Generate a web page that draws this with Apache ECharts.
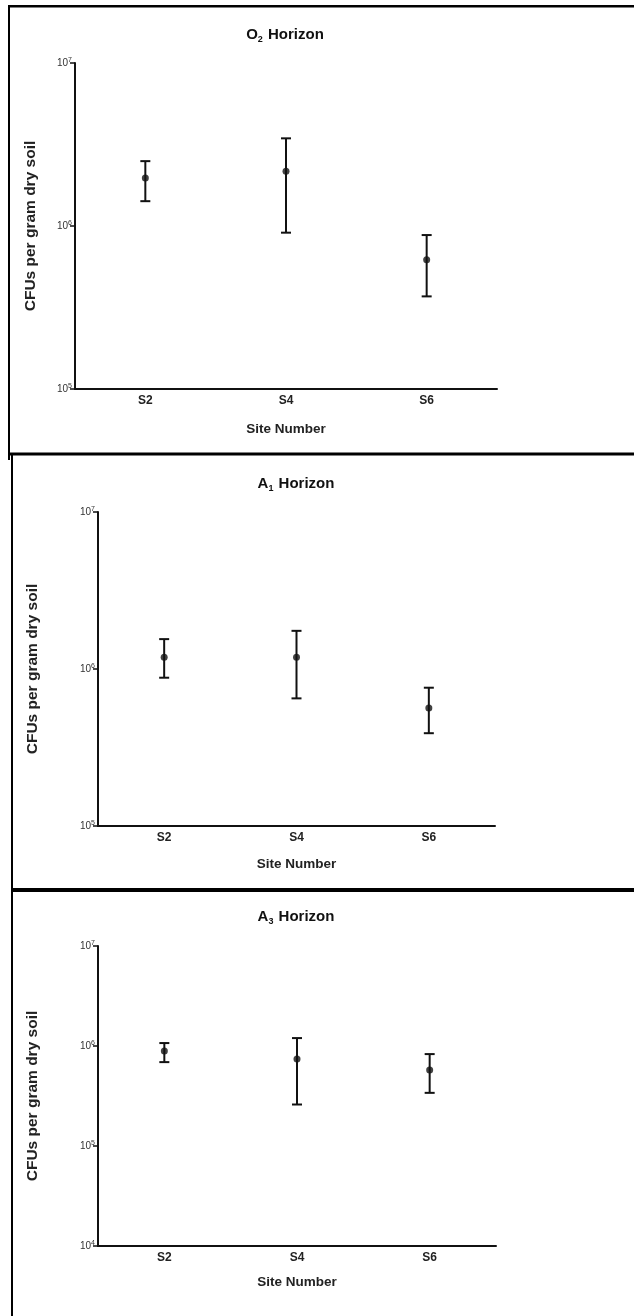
<!DOCTYPE html>
<html>
<head>
<meta charset="utf-8">
<title>CFUs per gram dry soil by horizon</title>
<script src="https://cdn.jsdelivr.net/npm/echarts@6/dist/echarts.min.js"></script>
<style>
  html, body { margin: 0; padding: 0; background: #fff; }
  #chart { width: 634px; height: 1316px; }
</style>
</head>
<body>
<div id="chart"></div>
<script>
// Site categories shared by all three horizons
const sites = ['S2', 'S4', 'S6'];

// O2 horizon: mean and error-bar limits (CFUs per gram dry soil)
const o2Mean = [1.97e6, 2.17e6, 6.2e5];
const o2Low  = [1.42e6, 9.1e5, 3.7e5];
const o2High = [2.5e6, 3.45e6, 8.8e5];

// A1 horizon
const a1Mean = [1.19e6, 1.19e6, 5.65e5];
const a1Low  = [8.8e5, 6.5e5, 3.9e5];
const a1High = [1.55e6, 1.75e6, 7.6e5];

// A3 horizon
const a3Mean = [8.9e5, 7.4e5, 5.75e5];
const a3Low  = [6.9e5, 2.6e5, 3.4e5];
const a3High = [1.07e6, 1.2e6, 8.3e5];

// Panel titles (horizon name and its subscript) and y-axis ranges
const horizonNames = ['O', 'A', 'A'];
const horizonSubs = ['2', '1', '3'];
const yMins = [1e5, 1e5, 1e4];
const yMaxs = [1e7, 1e7, 1e7];

const panels = [
  { mean: o2Mean, low: o2Low, high: o2High },
  { mean: a1Mean, low: a1Low, high: a1High },
  { mean: a3Mean, low: a3Low, high: a3High }
];

// Plot-area placement for each panel
const layout = [
  { left: 75, top: 63, width: 422, height: 326, titleX: 285, titleY: 35, yGap: 36, xGap: 33 },
  { left: 98, top: 512, width: 397, height: 314, titleX: 296, titleY: 484, yGap: 57, xGap: 31 },
  { left: 98, top: 946, width: 398, height: 300, titleX: 296, titleY: 917, yGap: 57, xGap: 29 }
];

const FONT = 'Liberation Sans, Arial, Helvetica, sans-serif';

const grids = [], xAxes = [], yAxes = [], series = [], titles = [];

layout.forEach((L, i) => {
  grids.push({ left: L.left, top: L.top, width: L.width, height: L.height });

  titles.push({
    text: horizonNames[i] + '{sub|' + horizonSubs[i] + '} Horizon',
    left: L.titleX, top: L.titleY,
    textAlign: 'center',
    textVerticalAlign: 'middle',
    padding: 0,
    textStyle: {
      fontFamily: FONT, fontSize: 15, fontWeight: 'bold', color: '#111',
      rich: { sub: { fontFamily: FONT, fontSize: 9, fontWeight: 'bold', color: '#111', padding: [9, 1, 0, 0] } }
    }
  });

  xAxes.push({
    type: 'category', gridIndex: i, data: sites,
    boundaryGap: true,
    name: 'Site Number', nameLocation: 'middle', nameGap: L.xGap,
    nameTextStyle: { fontFamily: FONT, fontSize: 13.5, fontWeight: 'bold', color: '#222' },
    axisLine: { lineStyle: { color: '#111', width: 2 } },
    axisTick: { alignWithLabel: true, length: 4, lineStyle: { color: '#111', width: 1.5 } },
    axisLabel: { fontFamily: FONT, fontSize: 12, fontWeight: 'bold', color: '#222', margin: 6 },
    splitLine: { show: false }
  });

  yAxes.push({
    type: 'log', logBase: 10, gridIndex: i,
    min: yMins[i], max: yMaxs[i],
    name: 'CFUs per gram dry soil', nameLocation: 'middle', nameGap: L.yGap,
    nameTextStyle: { fontFamily: FONT, fontSize: 15.5, fontWeight: 'bold', color: '#222' },
    axisLine: { show: true, lineStyle: { color: '#111', width: 2 } },
    axisTick: { show: true, length: 5, lineStyle: { color: '#111', width: 1.5 } },
    minorTick: { show: false },
    splitLine: { show: false },
    axisLabel: {
      fontFamily: FONT, fontSize: 10, color: '#333', margin: 3,
      formatter: v => '10{s|' + Math.round(Math.log10(v)) + '}',
      rich: { s: { fontFamily: FONT, fontSize: 7, color: '#333', padding: [0, 0, 6, 0] } }
    }
  });

  const P = panels[i];

  // Error bars: vertical whisker with caps, positioned through the axes
  series.push({
    type: 'custom', xAxisIndex: i, yAxisIndex: i,
    data: sites.map((s, k) => [k, P.low[k], P.high[k]]),
    encode: { x: 0, y: [1, 2] },
    renderItem: (params, api) => {
      const x = api.value(0);
      const pLow = api.coord([x, api.value(1)]);
      const pHigh = api.coord([x, api.value(2)]);
      const cap = 5;
      const style = { stroke: '#111', lineWidth: 2 };
      return {
        type: 'group',
        children: [
          { type: 'line', shape: { x1: pLow[0], y1: pLow[1], x2: pHigh[0], y2: pHigh[1] }, style },
          { type: 'line', shape: { x1: pHigh[0] - cap, y1: pHigh[1], x2: pHigh[0] + cap, y2: pHigh[1] }, style },
          { type: 'line', shape: { x1: pLow[0] - cap, y1: pLow[1], x2: pLow[0] + cap, y2: pLow[1] }, style }
        ]
      };
    },
    z: 2
  });

  // Mean points
  series.push({
    type: 'scatter', xAxisIndex: i, yAxisIndex: i,
    data: sites.map((s, k) => [k, P.mean[k]]),
    symbol: 'circle', symbolSize: 7,
    itemStyle: { color: '#111' },
    z: 3
  });
});

// Frames around the three panels
const frame = { fill: '#000' };
const graphics = [
  { type: 'rect', shape: { x: 8, y: 5, width: 626, height: 2.5 }, style: frame },
  { type: 'rect', shape: { x: 8, y: 5, width: 2, height: 455 }, style: frame },
  { type: 'rect', shape: { x: 8, y: 452.5, width: 626, height: 3 }, style: frame },
  { type: 'rect', shape: { x: 11, y: 455, width: 2, height: 861 }, style: frame },
  { type: 'rect', shape: { x: 11, y: 888, width: 623, height: 4 }, style: frame }
];

const chart = echarts.init(document.getElementById('chart'), null, { renderer: 'canvas' });
chart.setOption({
  backgroundColor: '#fff',
  animation: false,
  title: titles,
  grid: grids,
  xAxis: xAxes,
  yAxis: yAxes,
  series: series,
  graphic: graphics
});
</script>
</body>
</html>
